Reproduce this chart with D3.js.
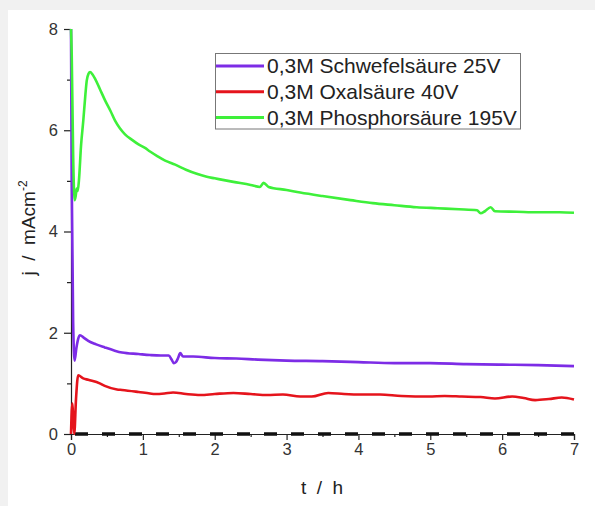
<!DOCTYPE html>
<html><head><meta charset="utf-8">
<script src="https://cdn.jsdelivr.net/npm/d3@7"></script>
<style>html,body{margin:0;padding:0;background:#f1f1f1;}svg{display:block;}</style>
</head><body>
<svg id="c" width="595" height="506"></svg>
<script>
// ---- data ----
const seriesNames = ["0,3M Schwefelsäure 25V", "0,3M Oxalsäure 40V", "0,3M Phosphorsäure 195V"];
const seriesColors = ["#7d2ce6", "#e5141c", "#3ef03a"];

const tSchwefel = [0, 0.01, 0.03, 0.05, 0.075, 0.1, 0.125, 0.18, 0.24, 0.35, 0.47, 0.6, 0.71, 0.94, 1.1, 1.25, 1.36, 1.40, 1.43, 1.46, 1.49, 1.52, 1.56, 1.7, 2.0, 2.3, 2.6, 3.0, 3.5, 4.0, 4.5, 5.0, 5.5, 6.0, 6.5, 7.0];
const vSchwefel = [8, 5, 2.2, 1.45, 1.7, 1.88, 1.95, 1.9, 1.84, 1.77, 1.71, 1.65, 1.61, 1.58, 1.56, 1.55, 1.55, 1.47, 1.40, 1.42, 1.50, 1.60, 1.53, 1.53, 1.50, 1.49, 1.47, 1.45, 1.44, 1.42, 1.40, 1.40, 1.38, 1.37, 1.36, 1.34];

const tOxal = [0, 0.01, 0.02, 0.03, 0.045, 0.07, 0.1, 0.17, 0.24, 0.4, 0.47, 0.64, 0.71, 0.94, 1.1, 1.17, 1.3, 1.42, 1.6, 1.8, 2.0, 2.26, 2.5, 2.73, 2.95, 3.19, 3.35, 3.58, 3.8, 4.05, 4.3, 4.6, 4.98, 5.2, 5.44, 5.7, 5.9, 6.14, 6.3, 6.46, 6.65, 6.83, 7.0];
const vOxal = [0, 0.45, 0.6, 0.3, 0.0, 0.7, 1.16, 1.1, 1.07, 1.0, 0.95, 0.88, 0.87, 0.83, 0.80, 0.79, 0.80, 0.82, 0.79, 0.77, 0.79, 0.81, 0.79, 0.77, 0.78, 0.74, 0.74, 0.81, 0.79, 0.78, 0.78, 0.75, 0.74, 0.75, 0.74, 0.73, 0.70, 0.74, 0.71, 0.67, 0.69, 0.72, 0.68];

const tPhosphor = [0, 0.01, 0.03, 0.05, 0.065, 0.08, 0.093, 0.11, 0.14, 0.171, 0.2, 0.219, 0.245, 0.265, 0.3, 0.334, 0.4, 0.474, 0.55, 0.613, 0.68, 0.752, 0.85, 0.94, 1.03, 1.1, 1.2, 1.31, 1.45, 1.6, 1.75, 1.89, 2.0, 2.26, 2.5, 2.63, 2.68, 2.75, 3.0, 3.19, 3.5, 3.89, 4.2, 4.5, 4.81, 5.1, 5.4, 5.65, 5.70, 5.76, 5.84, 5.9, 6.2, 6.5, 6.8, 7.0];
const vPhosphor = [8, 7.5, 5.5, 4.62, 4.7, 4.85, 4.8, 5.0, 5.7, 6.19, 6.7, 6.98, 7.12, 7.15, 7.1, 7.02, 6.82, 6.59, 6.38, 6.19, 6.04, 5.92, 5.81, 5.72, 5.65, 5.58, 5.49, 5.40, 5.32, 5.22, 5.14, 5.08, 5.05, 4.98, 4.92, 4.88, 4.96, 4.88, 4.82, 4.77, 4.70, 4.62, 4.56, 4.52, 4.48, 4.46, 4.44, 4.42, 4.36, 4.40, 4.48, 4.40, 4.39, 4.38, 4.38, 4.37];

const tBaseline = [0, 7];
const vBaseline = [0, 0];

const xTicks = [0, 1, 2, 3, 4, 5, 6, 7];
const xMinorTicks = [0.5, 1.5, 2.5, 3.5, 4.5, 5.5, 6.5];
const yTicks = [0, 2, 4, 6, 8];
const yMinorTicks = [1, 3, 5, 7];

// ---- drawing ----
const svg = d3.select("#c");
svg.append("rect").attr("x", 8).attr("y", 10).attr("width", 587).attr("height", 496).attr("fill", "#fff");

const x = d3.scaleLinear().domain([0, 7]).range([71, 574]);
const y = d3.scaleLinear().domain([0, 8]).range([434, 29]);
const font = "Liberation Sans, Arial, sans-serif";

// axes
const xAxis = svg.append("g").attr("transform", "translate(0,434)")
  .call(d3.axisBottom(x).tickValues(xTicks).tickSize(6).tickPadding(3).tickFormat(d3.format("d")));
const xMinor = svg.append("g").attr("transform", "translate(0,434)")
  .call(d3.axisBottom(x).tickValues(xMinorTicks).tickSize(3).tickFormat(""));
const yAxis = svg.append("g").attr("transform", "translate(71,0)")
  .call(d3.axisLeft(y).tickValues(yTicks).tickSize(7).tickPadding(6).tickFormat(d3.format("d")));
const yMinor = svg.append("g").attr("transform", "translate(71,0)")
  .call(d3.axisLeft(y).tickValues(yMinorTicks).tickSize(4).tickFormat(""));
[xAxis, xMinor, yAxis, yMinor].forEach(g => {
  g.select(".domain").attr("stroke", "#222").attr("stroke-width", 1.2);
  g.selectAll("line").attr("stroke", "#222").attr("stroke-width", 1.2);
  g.selectAll("text").attr("font-family", font).attr("font-size", 16.5).attr("fill", "#333");
});
xMinor.select(".domain").remove();
yMinor.select(".domain").remove();

// baseline dashed
const line = d3.line().x(d => x(d[0])).y(d => y(d[1])).curve(d3.curveMonotoneX);
svg.append("path").datum(d3.zip(tBaseline, vBaseline)).attr("d", line)
  .attr("fill", "none").attr("stroke", "#111").attr("stroke-width", 3.5)
  .attr("stroke-dasharray", "13,14").attr("stroke-dashoffset", -4);

const allSeries = [[tSchwefel, vSchwefel], [tOxal, vOxal], [tPhosphor, vPhosphor]];
allSeries.forEach((s, i) => {
  svg.append("path").datum(d3.zip(s[0], s[1])).attr("d", line)
    .attr("fill", "none").attr("stroke", seriesColors[i]).attr("stroke-width", 2.6)
    .attr("stroke-linejoin", "round");
});

// legend
const lg = svg.append("g");
lg.append("rect").attr("x", 215.5).attr("y", 53.5).attr("width", 305).attr("height", 75.5)
  .attr("fill", "#fff").attr("stroke", "#777").attr("stroke-width", 1);
seriesNames.forEach((n, i) => {
  const yy = 66 + i * 25.8;
  lg.append("line").attr("x1", 216).attr("x2", 264).attr("y1", yy).attr("y2", yy)
    .attr("stroke", seriesColors[i]).attr("stroke-width", 3);
  lg.append("text").attr("x", 267).attr("y", yy + 7).attr("font-family", font)
    .attr("font-size", 21).attr("fill", "#222").text(n);
});

// axis titles
svg.append("text").attr("x", 322).attr("y", 494).attr("text-anchor", "middle")
  .attr("font-family", font).attr("font-size", 19).attr("fill", "#222")
  .attr("xml:space", "preserve").text("t  /  h");
const yt = svg.append("text").attr("transform", "translate(35,228) rotate(-90)")
  .attr("text-anchor", "middle").attr("font-family", font).attr("font-size", 19).attr("fill", "#222");
yt.append("tspan").attr("xml:space", "preserve").text("j  /  mAcm");
yt.append("tspan").attr("font-size", 12).attr("dy", -8).text("-2");
</script>
</body></html>
